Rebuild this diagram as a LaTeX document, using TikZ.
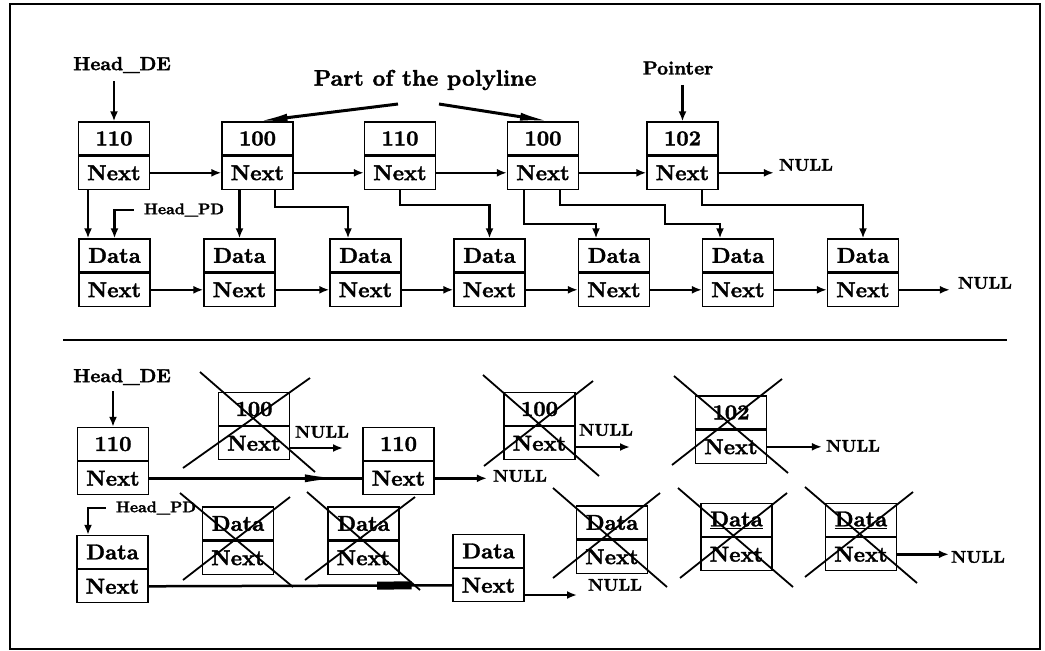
\documentclass[tikz,border=0pt]{standalone}
\usepackage{fontspec}
\newfontfamily\hvfont{lmroman10-bold.otf}[FakeBold=1.6]
\usetikzlibrary{arrows.meta,calc,decorations.markings}
\begin{document}
\begin{tikzpicture}[x=1pt,y=-1pt,
  cell/.style={draw, line width=1.3pt, minimum width=71pt, minimum height=33pt, inner sep=0pt,
    font=\fontsize{21.5}{21.5}\hvfont},
  arr/.style={line width=2.5pt, -{Latex[length=10pt,width=8pt]}},
  conn/.style={line width=2.5pt},
  lbl/.style={inner sep=0pt, font=\fontsize{19}{19}\hvfont},
  big/.style={inner sep=0pt, font=\fontsize{22.5}{22.5}\hvfont},
  ptr/.style={inner sep=0pt, font=\fontsize{19}{19}\hvfont},
  nul/.style={inner sep=0pt, font=\fontsize{17}{17}\hvfont},
  hpd/.style={inner sep=0pt, font=\fontsize{15.5}{15.5}\hvfont},
  xline/.style={line width=1.8pt},
  bigtip/.style={line width=3pt, -{Latex[length=30pt,width=8pt]}},
  midtip/.style={line width=2.5pt, postaction={decorate}, decoration={markings,
    mark=at position #1 with {\arrow{Latex[length=34pt,width=8pt]}}}},
]
\useasboundingbox (0,0) rectangle (1045,651);
\fill[white] (0,0) rectangle (1045,651);
% frame and separator
\draw[line width=2pt] (10,4) rectangle (1040,649);
\draw[line width=2.5pt] (63,340) -- (1007,340);

% ===== top section =====
\node[cell] (T1a) at (114,138.5) {110};
\node[cell,anchor=north] (T1b) at (T1a.south) {Next};
\node[cell] (T2a) at (257.5,138.5) {100};
\node[cell,anchor=north] (T2b) at (T2a.south) {Next};
\node[cell] (T3a) at (400,138.5) {110};
\node[cell,anchor=north] (T3b) at (T3a.south) {Next};
\node[cell] (T4a) at (543,138.5) {100};
\node[cell,anchor=north] (T4b) at (T4a.south) {Next};
\node[cell] (T5a) at (682.5,138.5) {102};
\node[cell,anchor=north] (T5b) at (T5a.south) {Next};

\foreach \n/\x in {1/114.5,2/239.5,3/365.5,4/489.5,5/614,6/738,7/863}{
  \node[cell] (D\n a) at (\x,255.5) {Data};
  \node[cell,anchor=north] (D\n b) at (D\n a.south) {Next};
}

\node[lbl] (hde1) at (122,65) {Head\_DE};
\node[big] (poly) at (425,80) {Part of the polyline};
\node[ptr] (ptr) at (678,68) {Pointer};
\node[nul] (null1) at (806,165) {NULL};
\node[hpd] (hpd1) at (184,210) {Head\_PD};
\node[nul] (null2) at (985,283) {NULL};

\draw[arr] (T1a.north |- hde1.south) ++(0,8) -- (T1a.north);
\draw[arr] (T5a.north |- ptr.south) ++(0,10) -- (T5a.north);
\coordinate (pl) at (398,104);
\coordinate (pr) at (439,104);
\draw[bigtip] (pl) -- (T2a.north);
\draw[bigtip] (pr) -- ([xshift=7pt]T4a.north);

\draw[arr] (T1b.east) -- (T2b.west);
\draw[arr] (T2b.east) -- (T3b.west);
\draw[arr] (T3b.east) -- (T4b.west);
\draw[arr] (T4b.east) -- (T5b.west);
\draw[arr] (T5b.east) -- ([xshift=-5pt]null1.west |- T5b.east);

\foreach \a/\b in {1/2,2/3,3/4,4/5,5/6,6/7}{
  \draw[arr] (D\a b.east) -- (D\b b.west);
}
\draw[arr] (D7b.east) -- ([xshift=-8pt]null2.west |- D7b.east);

\draw[arr] ([xshift=-26pt]T1b.south) -- ([xshift=-26.5pt]D1a.north);
\draw[arr] ([xshift=-10pt]hpd1.west) -| (D1a.north);
\draw[arr] (T2b.south -| D2a.north) -- (D2a.north);
\draw[arr] ([xshift=17.5pt]T2b.south) -- ++(0,17) -| ([xshift=-17.5pt]D3a.north);
\draw[arr] (T3b.south) -- ++(0,15) -| (D4a.north);
\draw[arr] ([xshift=-19pt]T4b.south) -- ++(0,34) -| ([xshift=-18pt]D5a.north);
\draw[arr] ([xshift=17pt]T4b.south) -- ++(0,15) -- ++(105,0) -- ++(0,19) -| ([xshift=-18pt]D6a.north);
\draw[arr] ([xshift=19.5pt]T5b.south) -- ++(0,15) -| (D7a.north);

% ===== bottom section =====
\node[lbl] (hde2) at (122,377) {Head\_DE};
\node[cell] (B1a) at (113,444) {110};
\node[cell,anchor=north] (B1b) at (B1a.south) {Next};
\node[cell] (X1a) at (254,409) {100};
\node[cell,anchor=north] (X1b) at (X1a.south) {Next};
\node[cell] (B2a) at (398.5,444) {110};
\node[cell,anchor=north] (B2b) at (B2a.south) {Next};
\node[cell] (X2a) at (539.5,409) {100};
\node[cell,anchor=north] (X2b) at (X2a.south) {Next};
\node[cell] (X3a) at (731,412.5) {102};
\node[cell,anchor=north] (X3b) at (X3a.south) {Next};

\node[cell] (B3a) at (112.5,552) {Data};
\node[cell,anchor=north] (B3b) at (B3a.south) {Next};
\node[cell] (Y1a) at (238,523.5) {Data};
\node[cell,anchor=north] (Y1b) at (Y1a.south) {Next};
\node[cell] (Y2a) at (363.5,523.5) {Data};
\node[cell,anchor=north] (Y2b) at (Y2a.south) {Next};
\node[cell] (B4a) at (488.5,551) {Data};
\node[cell,anchor=north] (B4b) at (B4a.south) {Next};
\node[cell] (Y3a) at (612,522.5) {Data};
\node[cell,anchor=north] (Y3b) at (Y3a.south) {Next};
\node[cell] (Y4a) at (736.5,520) {\underline{Data}};
\node[cell,anchor=north] (Y4b) at (Y4a.south) {Next};
\node[cell] (Y5a) at (861,520) {\underline{Data}};
\node[cell,anchor=north] (Y5b) at (Y5a.south) {Next};

\node[nul] (n3) at (322,432) {NULL};
\node[nul] (n4) at (520,476) {NULL};
\node[nul] (n5) at (606,430) {NULL};
\node[nul] (n6) at (853,446) {NULL};
\node[nul] (n7) at (615,585) {NULL};
\node[nul] (n8) at (978,557) {NULL};
\node[hpd] (hpd2) at (156,508) {Head\_PD};

\draw[arr] (B1a.north |- hde2.south) ++(0,6) -- (B1a.north);
\draw[arr] ([xshift=-10pt]hpd2.west) -| ([xshift=-24.5pt]B3a.north);

\coordinate (e3) at (343,448);
\coordinate (e5) at (630,447);
\draw[arr] (X1b.east |- e3) -- (e3);
\draw[arr] (B2b.east) -- ([xshift=-6pt]n4.west |- B2b.east);
\draw[arr] (X2b.east |- e5) -- (e5);
\draw[arr] (X3b.east) -- ([xshift=-4pt]n6.west |- X3b.east);
\draw[arr] (Y5b.east) -- ([xshift=-2pt]n8.west |- Y5b.east);
\coordinate (e7) at (577,595);
\draw[arr] (B4b.east |- e7) -- (e7);

\draw[midtip=0.89] (B1b.east) -- (B2b.west);
\draw[conn] (B3b.east) -- (B4b.west);
\draw[line width=8pt] ($(B3b.east)!0.752!(B4b.west)$) -- ($(B3b.east)!0.866!(B4b.west)$);

% crosses
\draw[xline] (200,372) -- (315,472) (310,378) -- (183,468);
\draw[xline] (483,375) -- (599,476) (593,381) -- (484,466);
\draw[xline] (674,376) -- (788,473) (782,379) -- (672,465);
\draw[xline] (180,493) -- (293,587) (290,497) -- (183,580);
\draw[xline] (307,492) -- (420,590) (415,497) -- (305,580);
\draw[xline] (553,488) -- (667,587) (660,493) -- (553,578);
\draw[xline] (678,488) -- (793,587) (787,493) -- (680,578);
\draw[xline] (805,487) -- (917,583) (913,492) -- (805,577);
\end{tikzpicture}
\end{document}
